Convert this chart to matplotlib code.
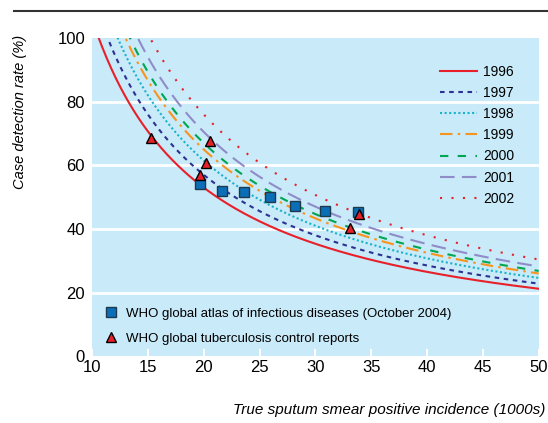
import matplotlib
matplotlib.use("Agg")
import matplotlib.pyplot as plt
from matplotlib.lines import Line2D
import numpy as np

plt.rcParams['font.family'] = ['Liberation Sans', 'DejaVu Sans']

# smear positive cases detected each year (1000s); rate = 100 * detected / incidence
years = ['1996', '1997', '1998', '1999', '2000', '2001', '2002']
detected = [10.6, 11.4, 12.3, 13.0, 13.4, 14.1, 15.2]
colors = ['#e8202a', '#2e3192', '#1bb3c9', '#f7941d', '#00a651', '#8f8cc8', '#e8202a']
dashes = [None, (2.2, 2.2), (1, 1.2), (6, 2.5, 1.2, 2.5), (4, 4.5), (7, 3.5), (1, 4.5)]

# WHO global atlas of infectious diseases (October 2004)
atlas_x = [19.65, 21.6, 23.6, 25.9, 28.2, 30.9, 33.85]
atlas_y = [54.1, 51.8, 51.6, 50.0, 47.3, 45.6, 45.2]
# WHO global tuberculosis control reports
report_x = [15.3, 19.7, 20.2, 20.6, 33.1, 33.9]
report_y = [68.6, 57.0, 60.8, 67.7, 40.3, 44.8]

fig = plt.figure(figsize=(5.48, 4.23), dpi=100)
ax = fig.add_axes([0.168, 0.158, 0.815, 0.752])
ax.set_facecolor('#c8eaf9')

x = np.linspace(10, 50, 400)
handles = []
for year, n, c, d in zip(years, detected, colors, dashes):
    line, = ax.plot(x, 100 * n / x, color=c, lw=1.5, label=year)
    if d is not None:
        line.set_dashes(d)
    handles.append(line)

ax.plot(atlas_x, atlas_y, 's', ms=6.5, color='#0a6fb7', mec='#1f3a4d', mew=1, zorder=5)
ax.plot(report_x, report_y, '^', ms=7, color='#e8202a', mec='black', mew=1, zorder=6)

ax.set_xlim(10, 50)
ax.set_ylim(0, 100)
ax.set_xticks(range(10, 51, 5))
ax.set_yticks(range(0, 101, 20))
for yy in [20, 40, 60, 80]:
    ax.axhline(yy, color='white', lw=2, zorder=1)
for s in ax.spines.values():
    s.set_visible(False)
ax.tick_params(axis='x', direction='in', color='white', length=5, width=1.5,
               labelsize=12, pad=3)
ax.tick_params(axis='y', length=0, labelsize=12, pad=5)

leg1 = ax.legend(handles=handles, loc='upper left', frameon=False, fontsize=10,
                 handlelength=2.7, handletextpad=0.45, labelspacing=0.51,
                 borderpad=0, borderaxespad=0, bbox_to_anchor=(0.778, 0.915))
ax.add_artist(leg1)
mk = [Line2D([], [], marker='s', ls='', ms=6.5, color='#0a6fb7', mec='#1f3a4d'),
      Line2D([], [], marker='^', ls='', ms=7, color='#e8202a', mec='black')]
ax.legend(mk, ['WHO global atlas of infectious diseases (October 2004)',
               'WHO global tuberculosis control reports'],
          loc='upper left', frameon=False, fontsize=9.5, handlelength=1,
          handletextpad=0.6, labelspacing=0.98, borderpad=0, borderaxespad=0,
          bbox_to_anchor=(0.028, 0.153))

fig.text(20 / 548, 1 - 112 / 423, 'Case detection rate (%)', rotation=90,
         ha='center', va='center', fontsize=10.5, style='italic')
fig.text(545 / 548, 1 - 410 / 423, 'True sputum smear positive incidence (1000s)',
         ha='right', va='center', fontsize=11, style='italic')
fig.add_artist(Line2D([14 / 548, 1], [1 - 11 / 423, 1 - 11 / 423],
                      color='#333333', lw=1.5))

fig.savefig('out.png', dpi=100)
